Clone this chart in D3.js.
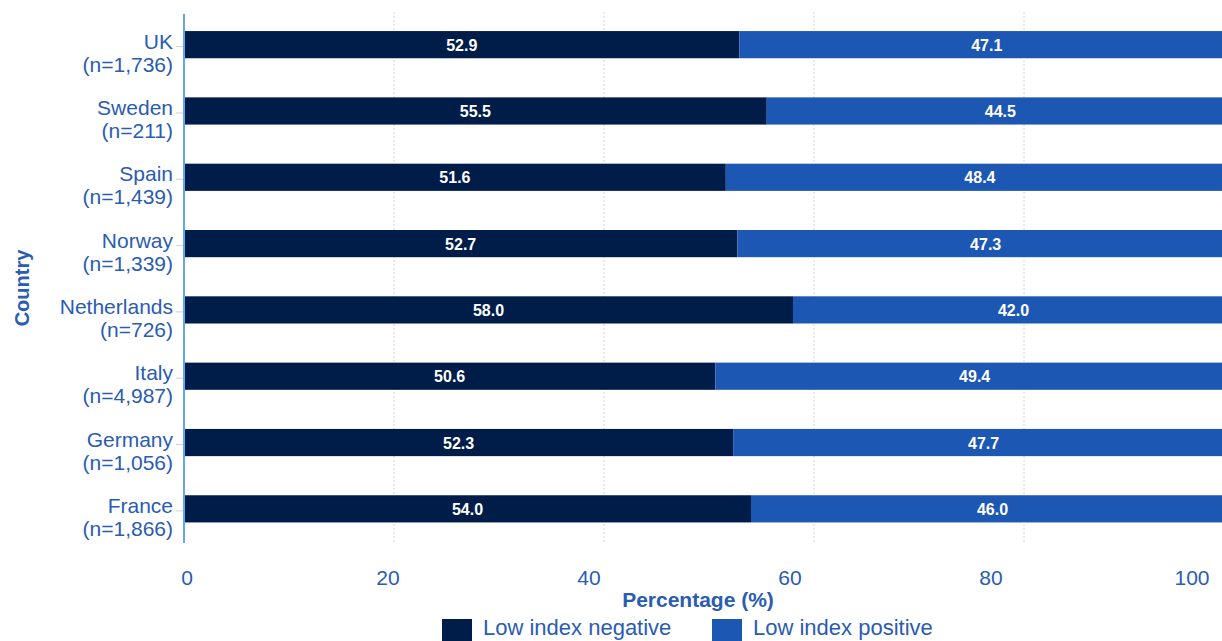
<!DOCTYPE html>
<html>
<head>
<meta charset="utf-8">
<script src="https://cdn.jsdelivr.net/npm/d3@7"></script>
<style>
  html, body { margin: 0; padding: 0; background: #fff; }
  svg { display: block; font-family: "Liberation Sans", Arial, sans-serif; }
</style>
</head>
<body>
<svg id="chart" width="1222" height="641"></svg>
<script>
const countries = ["UK", "Sweden", "Spain", "Norway", "Netherlands", "Italy", "Germany", "France"];
const sampleSizes = ["(n=1,736)", "(n=211)", "(n=1,439)", "(n=1,339)", "(n=726)", "(n=4,987)", "(n=1,056)", "(n=1,866)"];
const lowIndexNegative = [52.9, 55.5, 51.6, 52.7, 58.0, 50.6, 52.3, 54.0];
const lowIndexPositive = [47.1, 44.5, 48.4, 47.3, 42.0, 49.4, 47.7, 46.0];
const xTicks = [0, 20, 40, 60, 80, 100];
const seriesNames = ["Low index negative", "Low index positive"];
const seriesColors = ["#001c49", "#1c57b3"];

const textBlue = "#2a5cb2";
const svg = d3.select("#chart");

const x = d3.scaleLinear().domain([0, 100]).range([184, 1234]);
const xLabel = d3.scaleLinear().domain([0, 100]).range([187, 1192]);
const y = d3.scaleBand().domain(countries).range([11.5, 542]).paddingInner(0.59).paddingOuter(0.295);

// gridlines
svg.append("g").selectAll("line")
  .data(xTicks.filter(d => d > 0))
  .join("line")
  .attr("x1", d => x(d)).attr("x2", d => x(d))
  .attr("y1", 12).attr("y2", 542)
  .attr("stroke", "#d4d4d4").attr("stroke-width", 1)
  .attr("stroke-dasharray", "2,2");

// y tick marks
svg.append("g").selectAll("line")
  .data(countries)
  .join("line")
  .attr("x1", 176).attr("x2", 184)
  .attr("y1", d => y(d) + y.bandwidth() / 2 + 2)
  .attr("y2", d => y(d) + y.bandwidth() / 2 + 2)
  .attr("stroke", "#cfcfcf").attr("stroke-width", 1);

// bars
const rows = countries.map((c, i) => ({ c, neg: lowIndexNegative[i], pos: lowIndexPositive[i] }));
const g = svg.append("g");
g.selectAll("rect.neg").data(rows).join("rect")
  .attr("class", "neg")
  .attr("x", x(0)).attr("y", d => y(d.c))
  .attr("width", d => x(d.neg) - x(0)).attr("height", y.bandwidth())
  .attr("fill", seriesColors[0]);
g.selectAll("rect.pos").data(rows).join("rect")
  .attr("class", "pos")
  .attr("x", d => x(d.neg)).attr("y", d => y(d.c))
  .attr("width", d => x(d.neg + d.pos) - x(d.neg)).attr("height", y.bandwidth())
  .attr("fill", seriesColors[1]);

// bar labels
g.selectAll("text.negl").data(rows).join("text")
  .attr("x", d => (x(0) + x(d.neg)) / 2)
  .attr("y", d => y(d.c) + y.bandwidth() / 2 + 6)
  .attr("text-anchor", "middle").attr("fill", "#fff")
  .attr("font-size", 16).attr("font-weight", "bold")
  .text(d => d.neg.toFixed(1));
g.selectAll("text.posl").data(rows).join("text")
  .attr("x", d => (x(d.neg) + x(d.neg + d.pos)) / 2)
  .attr("y", d => y(d.c) + y.bandwidth() / 2 + 6)
  .attr("text-anchor", "middle").attr("fill", "#fff")
  .attr("font-size", 16).attr("font-weight", "bold")
  .text(d => d.pos.toFixed(1));

// y axis line
svg.append("line")
  .attr("x1", 184).attr("x2", 184).attr("y1", 14).attr("y2", 543)
  .attr("stroke", "#62a6f5").attr("stroke-width", 2);

// y labels
const yl = svg.append("g").selectAll("text").data(countries).join("text")
  .attr("text-anchor", "end").attr("fill", textBlue).attr("font-size", 21);
yl.append("tspan").attr("x", 173).attr("y", d => y(d) + y.bandwidth() / 2 + 4).text(d => d);
yl.append("tspan").attr("x", 173).attr("y", (d, i) => y(d) + y.bandwidth() / 2 + 27).text((d, i) => sampleSizes[i]);

// x tick labels
svg.append("g").selectAll("text").data(xTicks).join("text")
  .attr("x", d => xLabel(d)).attr("y", 585)
  .attr("text-anchor", "middle").attr("fill", textBlue).attr("font-size", 21)
  .text(d => d);

// axis titles
svg.append("text")
  .attr("x", 698).attr("y", 607).attr("text-anchor", "middle")
  .attr("fill", textBlue).attr("font-size", 21).attr("font-weight", "bold")
  .text("Percentage (%)");
svg.append("text")
  .attr("transform", "translate(29,288) rotate(-90)")
  .attr("text-anchor", "middle")
  .attr("fill", textBlue).attr("font-size", 20).attr("font-weight", "bold")
  .text("Country");

// legend
const legendX = [442, 712];
const lg = svg.append("g").selectAll("g").data(seriesNames).join("g")
  .attr("transform", (d, i) => `translate(${legendX[i]},619)`);
lg.append("rect").attr("width", 30).attr("height", 30).attr("fill", (d, i) => seriesColors[i]);
lg.append("text").attr("x", 41).attr("y", 16).attr("fill", textBlue).attr("font-size", 22).text(d => d);
</script>
</body>
</html>
